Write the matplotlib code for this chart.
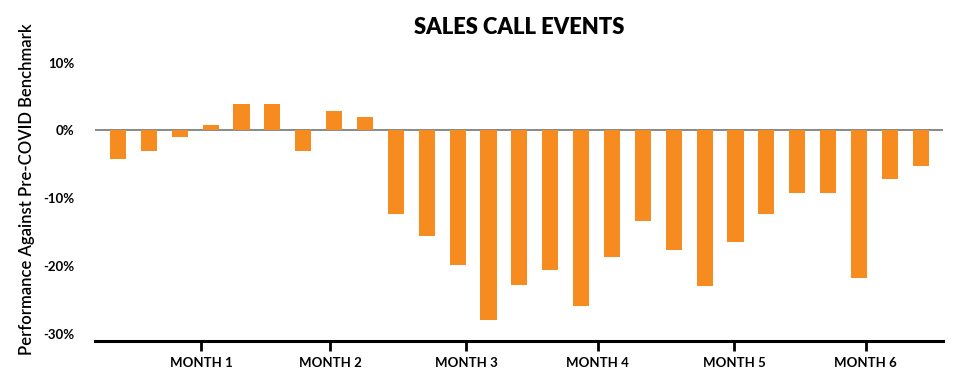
import matplotlib.pyplot as plt
from matplotlib.ticker import FuncFormatter

# valeurs (une barre par semaine)
values = [-4.2, -3.0, -0.9, 0.8, 3.9, 3.9, -3.0, 2.9, 2.0,
          -12.3, -15.5, -19.8, -27.9, -22.7, -20.6, -25.8, -18.6,
          -13.4, -17.6, -22.9, -16.4, -12.3, -9.2, -9.2, -21.7, -7.2, -5.2]
month_labels = ["MONTH 1", "MONTH 2", "MONTH 3", "MONTH 4", "MONTH 5", "MONTH 6"]
month_pos = [2.69, 6.87, 11.27, 15.54, 19.95, 24.22]
y_ticks = [10, 0, -10, -20, -30]

plt.rcParams['font.family'] = ['Lato', 'DejaVu Sans']

fig = plt.figure(figsize=(9.58, 3.89), dpi=100)
ax = fig.add_axes([0.0992, 0.1242, 0.8851, 0.7586])

x = list(range(len(values)))
ax.bar(x, values, width=0.52, color='#F68B1F', zorder=2)
ax.axhline(0, color='#808080', linewidth=1.3, zorder=1)

ax.set_xlim(-0.745, 26.72)
ax.set_ylim(-30.96, 12.5)

ax.set_xticks(month_pos)
ax.set_xticklabels(month_labels, fontsize=9.5, fontweight='bold')
ax.tick_params(axis='x', length=7, width=2, color='black', pad=5)

ax.set_yticks(y_ticks)
ax.yaxis.set_major_formatter(FuncFormatter(lambda v, p: f"{int(v)}%"))
ax.tick_params(axis='y', length=0, pad=15, labelsize=9.5)
for lab in ax.get_yticklabels():
    lab.set_fontweight('bold')

for s in ['top', 'right', 'left']:
    ax.spines[s].set_visible(False)
ax.spines['bottom'].set_linewidth(2.2)

ax.set_ylabel("Performance Against Pre-COVID Benchmark", fontsize=12,
              fontweight='semibold')
ax.yaxis.set_label_coords(-0.071, 0.514)

fig.text(0.542, 0.93, "SALES CALL EVENTS", ha='center', va='center',
         fontsize=15.8, fontweight='heavy')

fig.savefig("out.png", dpi=100)
